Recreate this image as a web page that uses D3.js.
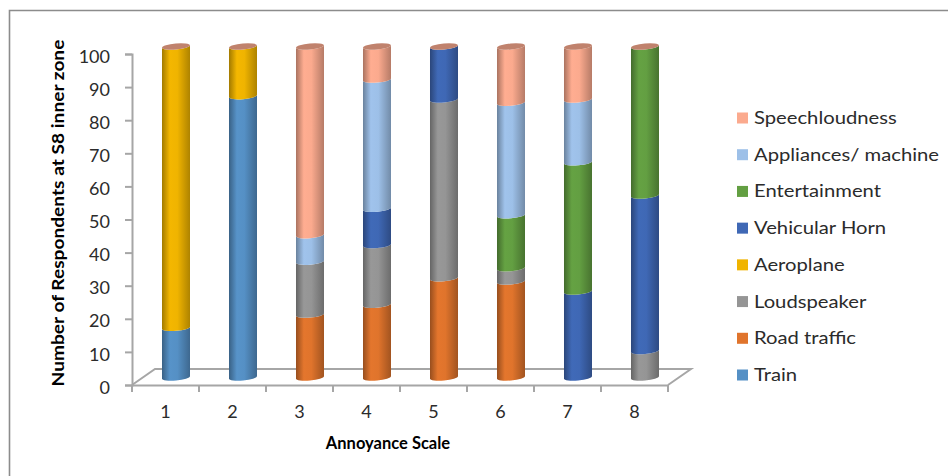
<!DOCTYPE html>
<html>
<head>
<meta charset="utf-8">
<title>Annoyance Scale</title>
<style>
  body { margin: 0; background: #fff; }
  text { font-family: Lato, "Open Sans", sans-serif; fill: #2b2b2b; }
  .axis-title { font-weight: 700; fill: #000; }
</style>
</head>
<body>
<div id="chart"></div>
<script src="https://cdn.jsdelivr.net/npm/d3@7"></script>
<script>
// data
var categories = ["1", "2", "3", "4", "5", "6", "7", "8"];
var seriesNames = ["Train", "Road traffic", "Loudspeaker", "Aeroplane", "Vehicular Horn", "Entertainment", "Appliances/ machine", "Speechloudness"];
var train = [15, 85, 0, 0, 0, 0, 0, 0];
var roadTraffic = [0, 0, 19, 22, 30, 29, 0, 0];
var loudspeaker = [0, 0, 16, 18, 54, 4, 0, 8];
var aeroplane = [85, 15, 0, 0, 0, 0, 0, 0];
var vehicularHorn = [0, 0, 0, 11, 16, 0, 26, 47];
var entertainment = [0, 0, 0, 0, 0, 16, 39, 45];
var appliances = [0, 0, 8, 39, 0, 34, 19, 0];
var speechloudness = [0, 0, 57, 10, 0, 17, 16, 0];
var seriesValues = [train, roadTraffic, loudspeaker, aeroplane, vehicularHorn, entertainment, appliances, speechloudness];
var colors = ["#5590c5", "#e0742c", "#959595", "#f0b400", "#3f68b5", "#639f42", "#9dc0e8", "#fbaa8e"];
var yTicks = [0, 10, 20, 30, 40, 50, 60, 70, 80, 90, 100];

var width = 948, height = 476;
var left = 132, right = 668, top_ = 54, bottom = 385;
// the floor runs back from the axes, bars stand in the middle of it
var floorDx = 23, floorDy = -16, barDx = 10.5, barDy = -7.5;

var svg = d3.select("#chart").append("svg")
    .attr("width", width)
    .attr("height", height)
    .style("display", "block");

var x = d3.scaleBand().domain(categories).range([left, right]);
var y = d3.scaleLinear().domain([0, 100]).range([bottom, top_]);

// outer frame, only top and left show in the crop
svg.append("path")
    .attr("d", "M9.5,476V10.5H948")
    .attr("fill", "none")
    .attr("stroke", "#8c8c8c")
    .attr("stroke-width", 1.6);

// gradients for the cylinder shading
var defs = svg.append("defs");
colors.forEach(function(c, i) {
  var g = defs.append("linearGradient").attr("id", "grad" + i);
  g.append("stop").attr("offset", "0%").attr("stop-color", d3.color(c).darker(1.1));
  g.append("stop").attr("offset", "28%").attr("stop-color", d3.color(c).brighter(0.05));
  g.append("stop").attr("offset", "55%").attr("stop-color", c);
  g.append("stop").attr("offset", "100%").attr("stop-color", d3.color(c).darker(0.9));
});

// floor
svg.append("path")
    .attr("d", "M" + left + "," + bottom + "L" + (left + floorDx) + "," + (bottom + floorDy) +
               "H" + (right + floorDx) + "L" + right + "," + bottom)
    .attr("fill", "none")
    .attr("stroke", "#a6a6a6")
    .attr("stroke-width", 2);

// y axis
var yAxis = svg.append("g")
    .attr("transform", "translate(" + left + ",0)")
    .call(d3.axisLeft(y).tickValues(yTicks).tickSize(7).tickPadding(15));
yAxis.selectAll("text")
    .attr("dy", "0.45em")
    .style("font-size", "18px");

// x axis, labels in the band centre and ticks on the band edges
var xAxis = svg.append("g")
    .attr("transform", "translate(0," + bottom + ")")
    .call(d3.axisBottom(x).tickSize(0).tickPadding(20));
xAxis.selectAll("text").style("font-size", "18px");
xAxis.selectAll(".edge")
    .data(categories.concat("end"))
  .enter().append("line")
    .attr("class", "edge")
    .attr("x1", function(d) { return d === "end" ? right : x(d); })
    .attr("x2", function(d) { return d === "end" ? right : x(d); })
    .attr("y1", 0)
    .attr("y2", 7);
svg.selectAll(".domain, .tick line, .edge")
    .attr("stroke", "#a6a6a6")
    .attr("stroke-width", 2);

// stack the series
var rows = categories.map(function(c, i) {
  var row = { cat: c };
  seriesNames.forEach(function(s, j) { row[s] = seriesValues[j][i]; });
  return row;
});
var stacked = d3.stack().keys(seriesNames)(rows);

var barW = x.bandwidth() * 0.418, rx = barW / 2, ry = 3, tilt = -5;
var slant = 1.2;

function cylinder(cx, y0, y1) {
  var l = cx - rx, r = cx + rx;
  return "M" + l + "," + (y0 + slant) +
    "A" + rx + "," + ry + " " + tilt + " 0 0 " + r + "," + (y0 - slant) +
    "L" + r + "," + (y1 - slant) +
    "A" + rx + "," + ry + " " + tilt + " 0 1 " + l + "," + (y1 + slant) + "Z";
}

var bars = svg.append("g").attr("transform", "translate(" + barDx + "," + barDy + ")");

stacked.forEach(function(layer, i) {
  bars.selectAll(".seg" + i)
      .data(layer.filter(function(d) { return d[1] > d[0]; }))
    .enter().append("path")
      .attr("class", "seg" + i)
      .attr("fill", "url(#grad" + i + ")")
      .attr("d", function(d) {
        return cylinder(x(d.data.cat) + x.bandwidth() / 2, y(d[0]), y(d[1]));
      });
});

// top cap of each stack takes the last series colour
bars.selectAll(".cap")
    .data(stacked[stacked.length - 1])
  .enter().append("ellipse")
    .attr("class", "cap")
    .attr("rx", rx)
    .attr("ry", ry)
    .attr("fill", d3.color(colors[colors.length - 1]).darker(0.75))
    .attr("transform", function(d) {
      return "translate(" + (x(d.data.cat) + x.bandwidth() / 2) + "," + y(d[1]) + ") rotate(" + tilt + ")";
    });

// axis titles, the y one is stretched along its length like in the original
svg.append("text")
    .attr("class", "axis-title")
    .attr("transform", "translate(64,213) rotate(-90) scale(1.16,1)")
    .attr("text-anchor", "middle")
    .style("font-size", "16.5px")
    .text("Number of Respondents at S8 inner zone");
svg.append("text")
    .attr("class", "axis-title")
    .attr("x", 388)
    .attr("y", 449)
    .attr("text-anchor", "middle")
    .style("font-size", "16.5px")
    .text("Annoyance Scale");

// legend, reversed so that Train sits at the bottom
var legendY = d3.scalePoint()
    .domain(seriesNames.slice().reverse())
    .range([118, 375]);
var legend = svg.selectAll(".legend")
    .data(seriesNames)
  .enter().append("g")
    .attr("class", "legend")
    .attr("transform", function(d) { return "translate(737," + legendY(d) + ")"; });
legend.append("rect")
    .attr("y", -5.5)
    .attr("width", 11)
    .attr("height", 11)
    .attr("fill", function(d, i) { return colors[i]; });
legend.append("text")
    .attr("transform", "translate(17,6) scale(1.125,1)")
    .style("font-size", "18px")
    .text(function(d) { return d; });
</script>
</body>
</html>
